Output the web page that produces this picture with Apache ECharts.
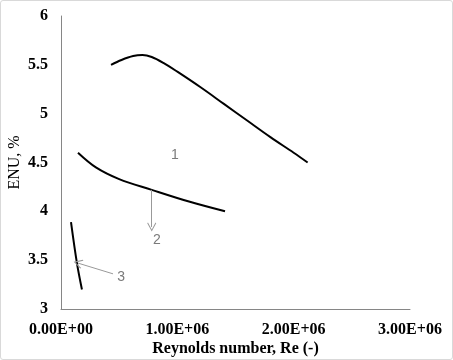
<!DOCTYPE html>
<html>
<head>
<meta charset="utf-8">
<script src="https://cdn.jsdelivr.net/npm/echarts@6/dist/echarts.min.js"></script>
<style>
html,body{margin:0;padding:0;background:#fff;}
#c{width:453px;height:360px;box-sizing:border-box;border:1px solid #d9d9d9;border-radius:3px;}
</style>
</head>
<body>
<div id="c"></div>
<script>
// Data (x in Re, y in %)
const curve1 = [[0.43e6,5.50],[0.52e6,5.55],[0.62e6,5.59],[0.70e6,5.60],[0.78e6,5.58],[0.88e6,5.52],[1.0e6,5.43],[1.2e6,5.27],[1.4e6,5.10],[1.6e6,4.93],[1.8e6,4.76],[2.0e6,4.60],[2.12e6,4.50]];
const curve2 = [[0.146e6,4.60],[0.30e6,4.45],[0.50e6,4.33],[0.78e6,4.22],[1.1e6,4.10],[1.41e6,4.00]];
const curve3 = [[0.086e6,3.89],[0.137e6,3.47],[0.18e6,3.20]];
const curveLabels = [[0.98e6,4.58,'1'],[0.825e6,3.71,'2'],[0.516e6,3.33,'3']];
const arrows = [
  [[0.78e6,4.22],[0.78e6,3.84]],
  [[0.447e6,3.36],[0.146e6,3.47]]
];
const xTicks = {min:0, max:3e6, interval:1e6};
const yTicks = {min:3, max:6, interval:0.5};

function sci(v){
  if(v===0) return '0.00E+00';
  const e = Math.floor(Math.log10(Math.abs(v)));
  const m = v/Math.pow(10,e);
  const es = (e<0?'-':'+') + String(Math.abs(e)).padStart(2,'0');
  return m.toFixed(2)+'E'+es;
}

const chart = echarts.init(document.getElementById('c'), null, {renderer:'canvas'});
const axisFont = {fontFamily:'Liberation Serif', fontSize:16, fontWeight:'bold', color:'#000'};
const lineBase = {type:'line', smooth:0.35, showSymbol:false, symbol:'none', silent:true, lineStyle:{color:'#000', width:2}};
const arrowHead = 'path://M0,0 L6,10 L5,11 L0,2.5 L-5,11 L-6,10 Z';

chart.setOption({
  animation:false,
  grid:{left:60, top:15, right:42, bottom:50, containLabel:false, outerBoundsMode:'none'},
  xAxis:{
    type:'value', min:xTicks.min, max:xTicks.max, interval:xTicks.interval,
    name:'Reynolds number, Re (-)', nameLocation:'middle', nameGap:32, nameMoveOverlap:false,
    nameTextStyle:axisFont,
    axisLine:{show:true, onZero:false, lineStyle:{color:'#868686', width:1}},
    axisTick:{show:false}, splitLine:{show:false},
    axisLabel:Object.assign({margin:13, formatter:sci}, axisFont)
  },
  yAxis:{
    type:'value', min:yTicks.min, max:yTicks.max, interval:yTicks.interval,
    name:'ENU, %', nameLocation:'middle', nameGap:38, nameMoveOverlap:false,
    nameTextStyle:Object.assign({}, axisFont, {fontWeight:'normal'}),
    axisLine:{show:true, onZero:false, lineStyle:{color:'#868686', width:1}},
    axisTick:{show:false}, splitLine:{show:false},
    axisLabel:Object.assign({margin:13}, axisFont)
  },
  series:[
    Object.assign({data:curve1}, lineBase),
    Object.assign({data:curve2}, lineBase),
    Object.assign({data:curve3}, lineBase),
    {
      type:'scatter', data:curveLabels, symbolSize:1, itemStyle:{color:'rgba(0,0,0,0)'}, silent:true,
      label:{show:true, position:'inside', formatter:p=>p.value[2], fontFamily:'Liberation Sans', fontSize:14, color:'#595959'},
      markLine:{
        silent:true, animation:false,
        symbol:['none', arrowHead], symbolSize:[9,9],
        label:{show:false},
        lineStyle:{color:'#999999', width:1, type:'solid'},
        data:arrows.map(a=>[{coord:a[0]},{coord:a[1]}])
      }
    }
  ]
});
</script>
</body>
</html>
